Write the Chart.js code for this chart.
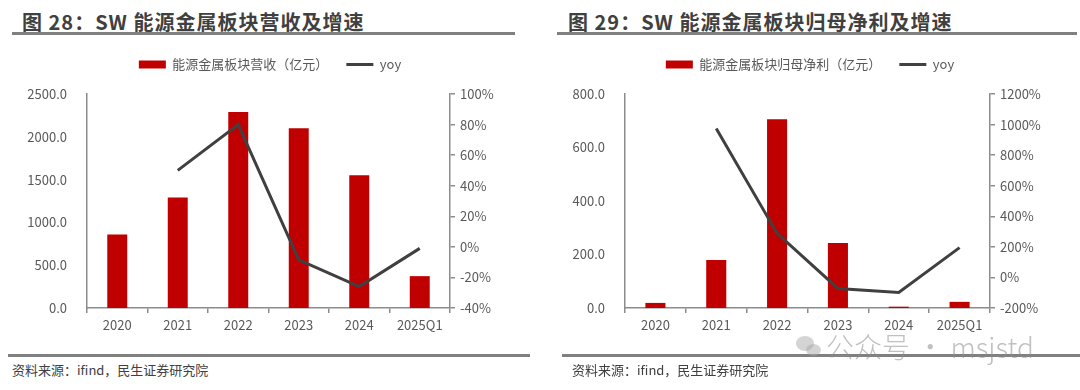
<!DOCTYPE html>
<html>
<head>
<meta charset="utf-8">
<script src="https://cdn.jsdelivr.net/npm/chart.js@4.4.1/dist/chart.umd.min.js"></script>
<style>
  html, body { margin: 0; padding: 0; background: #fff; }
  body { width: 1080px; height: 390px; position: relative; overflow: hidden;
         font-family: "Noto Sans CJK SC", "Noto Sans", sans-serif; }
  .panel { position: absolute; top: 0; width: 540px; height: 390px; }
  .title { position: absolute; top: 7px; font-size: 20px; font-weight: bold; color: #404040;
           letter-spacing: 1px; white-space: nowrap; }
  .rule { position: absolute; height: 3px; background: #808080; }
  .box { position: absolute; top: 40px; width: 540px; height: 300px; }
  .source { position: absolute; top: 360px; font-size: 13px; color: #404040; white-space: nowrap; }
  .mark { position: absolute; left: 793px; top: 326px; color: rgba(140,140,140,0.55);
          font-size: 28px; font-weight: 300; white-space: nowrap; }
  .bubble { position: absolute; border-radius: 50%; background: rgba(170,170,170,0.5); }
</style>
</head>
<body>

<div class="panel" style="left:0">
  <div class="title" style="left:22px">图 28：SW 能源金属板块营收及增速</div>
  <div class="rule" style="left:12px; top:32px; width:503px"></div>
  <div class="box"><canvas id="revChart"></canvas></div>
  <div class="rule" style="left:8px; top:354px; width:522px"></div>
  <div class="source" style="left:12px">资料来源：ifind，民生证券研究院</div>
</div>

<div class="panel" style="left:540px">
  <div class="title" style="left:28px">图 29：SW 能源金属板块归母净利及增速</div>
  <div class="rule" style="left:17px; top:32px; width:520px"></div>
  <div class="box"><canvas id="profitChart"></canvas></div>
  <div class="rule" style="left:22px; top:354px; width:518px"></div>
  <div class="source" style="left:32px">资料来源：ifind，民生证券研究院</div>
</div>

<div class="bubble" style="left:796px; top:336px; width:18px; height:15px"></div>
<div class="bubble" style="left:806px; top:344px; width:15px; height:12px"></div>
<div class="mark" style="left:826px">公众号 · msjstd</div>

<script>
'use strict';

// categories
const years = ["2020", "2021", "2022", "2023", "2024", "2025Q1"];

// fig 28: revenue (亿元) and yoy (%)
const revenue = [860, 1290, 2290, 2100, 1550, 372];
const revenueYoy = [null, 50, 80, -8.5, -26, -1];

// fig 29: net profit attributable to parent (亿元) and yoy (%)
const profit = [19, 179, 706, 243, 5, 23];
const profitYoy = [null, 975, 288, -72, -98, 195];

// axis ranges / tick steps
const revAxis = { min: 0, max: 2500, step: 500 };
const revYoyAxis = { min: -40, max: 100, step: 20 };
const profitAxis = { min: 0, max: 800, step: 200 };
const profitYoyAxis = { min: -200, max: 1200, step: 200 };

const RED = "#C00000";
const LINE = "#404040";
const AXIS = "#8c8c8c";
const TEXT = "#595959";

Chart.defaults.font.family = '"Noto Sans CJK SC", "Noto Sans", sans-serif';
Chart.defaults.font.size = 13;
Chart.defaults.color = TEXT;

/**
 * fix legend block height so the plot area starts where it should
 */
const legendHeight = {
  id: "legendHeight",
  beforeInit: function (chart) {
    const fit = chart.legend.fit;
    chart.legend.fit = function () {
      fit.bind(chart.legend)();
      this.height = 54;
    };
  }
};

const makeChart = function (id, barLabel, bars, yoy, leftAxis, rightAxis, leftWidth) {
  const ctx = document.getElementById(id).getContext("2d");
  return new Chart(ctx, {
    type: "bar",
    data: {
      labels: years,
      datasets: [{
        type: "bar",
        label: barLabel,
        data: bars,
        backgroundColor: RED,
        yAxisID: "y",
        order: 1,
        pointStyle: "rect",
        categoryPercentage: 1,
        barPercentage: 0.33
      }, {
        type: "line",
        label: "yoy",
        data: yoy,
        borderColor: LINE,
        backgroundColor: LINE,
        borderWidth: 3,
        pointRadius: 0,
        pointStyle: "line",
        tension: 0,
        yAxisID: "y1",
        order: 0
      }]
    },
    options: {
      responsive: false,
      animation: false,
      layout: { padding: 0 },
      plugins: {
        tooltip: { enabled: false },
        legend: {
          display: true,
          position: "top",
          labels: {
            usePointStyle: true,
            pointStyleWidth: 27,
            boxWidth: 27,
            boxHeight: 8,
            padding: 18,
            color: TEXT,
            font: { size: 13 },
            sort: function (a, b) { return a.datasetIndex - b.datasetIndex; }
          }
        }
      },
      scales: {
        x: {
          grid: { display: true, drawOnChartArea: false, drawTicks: true, tickLength: 5, color: AXIS, lineWidth: 1.5 },
          border: { display: true, color: AXIS, width: 1.5 },
          ticks: { color: TEXT, padding: 4, maxRotation: 0 },
          afterFit: function (scale) { scale.height = 32; }
        },
        y: {
          position: "left",
          min: leftAxis.min,
          max: leftAxis.max,
          grid: { display: false },
          border: { display: true, color: AXIS, width: 1.5 },
          ticks: {
            stepSize: leftAxis.step,
            color: TEXT,
            padding: 12,
            callback: function (v) { return v.toFixed(1); }
          },
          afterFit: function (scale) { scale.width = leftWidth; }
        },
        y1: {
          position: "right",
          min: rightAxis.min,
          max: rightAxis.max,
          grid: { display: true, drawOnChartArea: false, drawTicks: true, tickLength: 5, color: AXIS, lineWidth: 1.5 },
          border: { display: true, color: AXIS, width: 1.5 },
          ticks: {
            stepSize: rightAxis.step,
            color: TEXT,
            padding: 5,
            callback: function (v) { return v + "%"; }
          },
          afterFit: function (scale) { scale.width = 90; }
        }
      }
    },
    plugins: [legendHeight]
  });
};

document.getElementById("revChart").width = 540;
document.getElementById("revChart").height = 300;
document.getElementById("profitChart").width = 540;
document.getElementById("profitChart").height = 300;

makeChart("revChart", "能源金属板块营收（亿元）", revenue, revenueYoy, revAxis, revYoyAxis, 87);
makeChart("profitChart", "能源金属板块归母净利（亿元）", profit, profitYoy, profitAxis, profitYoyAxis, 85);
</script>
</body>
</html>
